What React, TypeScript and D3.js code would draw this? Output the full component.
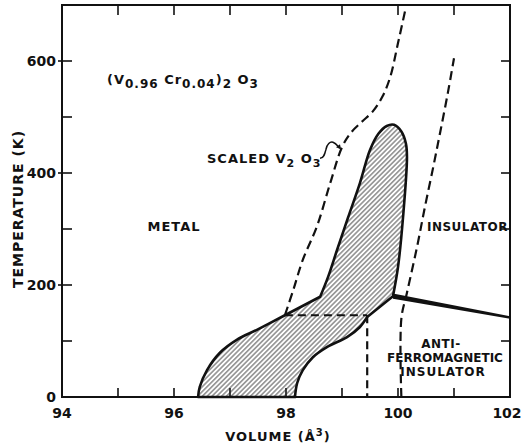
import * as d3 from 'd3';

const W = 523;
const H = 444;

const X_TICKS = [94, 95, 96, 97, 98, 99, 100, 101, 102];
const X_LABELS = [94, 96, 98, 100, 102];
const Y_TICKS = [0, 100, 200, 300, 400, 500, 600];
const Y_LABELS = [0, 200, 400, 600];

// coexistence region boundary, [volume Å^3, temperature K]
const lowerLeftCurve: [number, number][] = [
  [96.43, 0], [96.46, 18], [96.59, 48], [96.82, 79], [97.12, 102], [97.48, 120], [97.98, 146],
];
const kneeSegment: [number, number][] = [[97.98, 146], [98.61, 179]];
const upperLoop: [number, number][] = [
  [98.61, 179], [98.75, 214], [98.91, 262], [99.11, 321], [99.32, 382], [99.5, 441],
  [99.65, 470], [99.8, 484], [99.93, 486], [100.06, 474], [100.14, 453], [100.16, 429],
  [100.09, 321], [100.0, 232], [99.91, 180],
];
const kinkSegment: [number, number][] = [[99.91, 180], [99.45, 143]];
const lowerRightCurve: [number, number][] = [
  [99.45, 143], [99.32, 125], [99.09, 107], [98.73, 89], [98.48, 71], [98.3, 48], [98.2, 25], [98.16, 0],
];

// AF insulator boundary (thick, tapering)
const afBoundary: [number, number][] = [[99.91, 180], [102, 142]];

// dashed lines
const scaledLeft: [number, number][] = [
  [97.98, 146], [98.13, 191], [98.3, 245], [98.55, 304], [98.79, 382], [99.0, 446],
  [99.16, 472], [99.35, 491], [99.55, 510], [99.72, 536], [99.86, 571], [100.0, 632], [100.13, 691],
];
const scaledRight: [number, number][] = [
  [100.06, 0], [100.06, 140], [100.16, 186], [100.34, 268], [100.48, 339],
  [100.63, 411], [100.75, 471], [100.89, 543], [101.0, 605],
];
const dashedFlat: [number, number][] = [[97.98, 146], [99.45, 146]];
const dashedDrop: [number, number][] = [[99.45, 146], [99.45, 0]];

const FONT = 'DejaVu Sans, sans-serif';

export default function App() {
  const x = d3.scaleLinear().domain([94, 102]).range([62, 510]);
  const y = d3.scaleLinear().domain([0, 700]).range([397, 5]);

  const smooth = d3.line<[number, number]>().x(d => x(d[0])).y(d => y(d[1])).curve(d3.curveCatmullRom.alpha(0.5));
  const straight = d3.line<[number, number]>().x(d => x(d[0])).y(d => y(d[1]));

  const region = [
    smooth(lowerLeftCurve),
    straight(kneeSegment),
    smooth(upperLoop),
    straight(kinkSegment),
    smooth(lowerRightCurve),
  ].map((p, i) => (i === 0 ? p : 'L' + (p as string).slice(1))).join('') + 'Z';

  // wedge for the AF boundary, thicker at the kink
  const [k0, k1] = afBoundary;
  const wedge = `M${x(k0[0])},${y(k0[1]) - 2.6}L${x(k1[0])},${y(k1[1]) - 1.3}L${x(k1[0])},${y(k1[1]) + 1.3}L${x(k0[0])},${y(k0[1]) + 2.6}Z`;

  const [x0, x1] = x.range();
  const [yb, yt] = y.range();

  // small squiggle pointing at the scaled line
  const sx = x(99.0);
  const sy = y(446);
  const squiggle = `M${sx - 22},${sy + 11} C${sx - 18},${sy + 11} ${sx - 17},${sy + 6} ${sx - 16},${sy + 2} C${sx - 15},${sy - 3} ${sx - 12},${sy - 6} ${sx - 9},${sy - 5} C${sx - 6},${sy - 4} ${sx - 4},${sy - 1} ${sx - 2},${sy + 1}`;
  const arrow = `M${sx - 1},${sy + 2} L${sx - 6},${sy} L${sx - 2},${sy - 3} Z`;

  const txt = { fontFamily: FONT, fontWeight: 700, fill: '#111' } as const;

  return (
    <svg width={W} height={H} style={{ position: 'absolute', left: 0, top: 0, background: '#fff' }}>
      <defs>
        <pattern id="hatch" width="3.4" height="3.4" patternUnits="userSpaceOnUse" patternTransform="rotate(45)">
          <line x1="1.7" y1="0" x2="1.7" y2="3.4" stroke="#222" strokeWidth="0.8" />
        </pattern>
      </defs>

      {/* frame */}
      <rect x={x0} y={yt} width={x1 - x0} height={yb - yt} fill="none" stroke="#111" strokeWidth={2} />

      {/* ticks */}
      {X_TICKS.slice(1, -1).map(t => (
        <g key={'xt' + t}>
          <line x1={x(t)} x2={x(t)} y1={yb} y2={yb - 9} stroke="#111" strokeWidth={1.6} />
          <line x1={x(t)} x2={x(t)} y1={yt} y2={yt + 10} stroke="#111" strokeWidth={1.6} />
        </g>
      ))}
      {Y_TICKS.slice(1).map(t => (
        <g key={'yt' + t}>
          <line x1={Y_LABELS.includes(t) ? x0 - 4 : x0} x2={x0 + 10} y1={y(t)} y2={y(t)} stroke="#111" strokeWidth={1.6} />
          <line x1={x1} x2={x1 - 9} y1={y(t)} y2={y(t)} stroke="#111" strokeWidth={1.6} />
        </g>
      ))}

      {/* tick labels */}
      {X_LABELS.map(t => (
        <text key={'xl' + t} x={Math.min(x(t), 507)} y={418} textAnchor="middle" fontSize={14} {...txt}>{t}</text>
      ))}
      {Y_LABELS.map(t => (
        <text key={'yl' + t} x={56} y={y(t) + 5} textAnchor="end" fontSize={14} {...txt}>{t}</text>
      ))}

      {/* axis titles */}
      <text transform="translate(23,209) rotate(-90)" textAnchor="middle" fontSize={14} letterSpacing={1} {...txt}>TEMPERATURE (K)</text>
      <text x={278} y={441} textAnchor="middle" fontSize={13} letterSpacing={1} {...txt}>
        VOLUME (Å<tspan dy={-5} fontSize={10}>3</tspan><tspan dy={5}>)</tspan>
      </text>

      {/* coexistence region */}
      <path d={region} fill="url(#hatch)" stroke="#111" strokeWidth={2.6} strokeLinejoin="round" />
      <path d={wedge} fill="#111" />

      {/* dashed lines */}
      {[scaledLeft, scaledRight].map((d, i) => (
        <path key={'ds' + i} d={smooth(d) as string} fill="none" stroke="#111" strokeWidth={2.2} strokeDasharray="9,5" />
      ))}
      {[dashedFlat, dashedDrop].map((d, i) => (
        <path key={'dl' + i} d={straight(d) as string} fill="none" stroke="#111" strokeWidth={2.2} strokeDasharray="8,5" />
      ))}

      <path d={squiggle} fill="none" stroke="#111" strokeWidth={1.5} />
      <path d={arrow} fill="#111" />

      {/* labels */}
      <text x={107} y={84} fontSize={13} letterSpacing={1} {...txt}>
        (V<tspan dy={4} fontSize={12}>0.96</tspan><tspan dy={-4}> Cr</tspan><tspan dy={4} fontSize={12}>0.04</tspan><tspan dy={-4}>)</tspan><tspan dy={4} fontSize={12}>2</tspan><tspan dy={-4}> O</tspan><tspan dy={4} fontSize={12}>3</tspan>
      </text>
      <text x={207} y={163} fontSize={13} letterSpacing={1} {...txt}>
        SCALED V<tspan dy={4} fontSize={11}>2</tspan><tspan dy={-4}> O</tspan><tspan dy={4} fontSize={11}>3</tspan>
      </text>
      <text x={174} y={231} textAnchor="middle" fontSize={13} letterSpacing={1} {...txt}>METAL</text>
      <text x={508} y={231} textAnchor="end" fontSize={12} letterSpacing={0.5} {...txt}>INSULATOR</text>
      <text x={441} y={348} textAnchor="middle" fontSize={12} letterSpacing={0.5} {...txt}>ANTI-</text>
      <text x={445} y={362} textAnchor="middle" fontSize={12} {...txt}>FERROMAGNETIC</text>
      <text x={443} y={376} textAnchor="middle" fontSize={12} letterSpacing={1} {...txt}>INSULATOR</text>
    </svg>
  );
}
